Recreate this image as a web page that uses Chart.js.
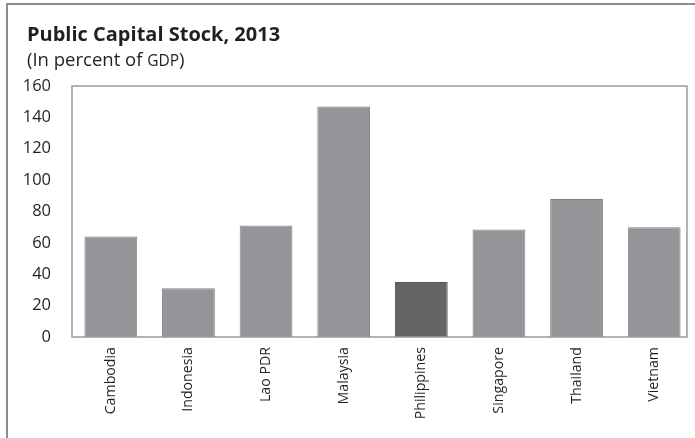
<!DOCTYPE html>
<html>
<head>
<meta charset="utf-8">
<script src="https://cdn.jsdelivr.net/npm/chart.js@4"></script>
<style>
  html, body { margin: 0; padding: 0; background: #fff; }
  #wrap { width: 695px; height: 438px; }
</style>
</head>
<body>
<div id="wrap"><canvas id="myChart" width="695" height="438"></canvas></div>
<script>
'use strict';

const countries = ['Cambodia', 'Indonesia', 'Lao PDR', 'Malaysia', 'Philippines', 'Singapore', 'Thailand', 'Vietnam'];
const capitalStock = [64, 31, 71, 147, 35, 68.5, 88, 70];
const barColors = ['#939598', '#939598', '#939598', '#939598', '#636466', '#939598', '#939598', '#939598'];
const borderColors = ['#808285', '#808285', '#808285', '#808285', '#555658', '#808285', '#808285', '#808285'];
const yTicks = [0, 20, 40, 60, 80, 100, 120, 140, 160];

const FONT = '"Open Sans", "Noto Sans", sans-serif';

// outer frame, titles and the box round the plot
const decor = {
    id: 'decor',
    beforeDraw(chart) {
        const ctx = chart.ctx;
        ctx.save();
        ctx.strokeStyle = '#8c8c8c';
        ctx.lineWidth = 2;
        ctx.beginPath();
        ctx.moveTo(7, 438);
        ctx.lineTo(7, 4);
        ctx.lineTo(695, 4);
        ctx.stroke();

        ctx.fillStyle = '#231f20';
        ctx.textBaseline = 'alphabetic';
        ctx.font = 'bold 20px ' + FONT;
        ctx.fillText('Public Capital Stock, 2013', 27, 41);
        ctx.font = '18.5px ' + FONT;
        const part = '(In percent of ';
        ctx.fillText(part, 27, 66);
        let x = 27 + ctx.measureText(part).width;
        ctx.font = '15.5px ' + FONT;
        ctx.fillText('GDP', x, 66);
        x += ctx.measureText('GDP').width;
        ctx.font = '18.5px ' + FONT;
        ctx.fillText(')', x, 66);
        ctx.restore();
    },
    afterDatasetsDraw(chart) {
        const a = chart.chartArea;
        const ctx = chart.ctx;
        ctx.save();
        ctx.strokeStyle = '#9a9a9a';
        ctx.lineWidth = 1.5;
        // the box stops a little short of the last category slot
        ctx.strokeRect(a.left, a.top, a.right - 6 - a.left, a.bottom - a.top);
        ctx.restore();
    }
};

const config = {
    type: 'bar',
    data: {
        labels: countries,
        datasets: [{
            data: capitalStock,
            backgroundColor: barColors,
            borderColor: borderColors,
            borderWidth: 1,
            barPercentage: 0.68,
            categoryPercentage: 1
        }]
    },
    options: {
        responsive: false,
        animation: false,
        layout: {
            padding: { left: 0, right: 2, top: 86, bottom: 0 }
        },
        plugins: {
            legend: { display: false },
            tooltip: { enabled: false }
        },
        scales: {
            x: {
                grid: { display: false, drawTicks: false },
                border: { display: false },
                ticks: {
                    color: '#231f20',
                    minRotation: 90,
                    maxRotation: 90,
                    padding: 10,
                    font: { family: FONT, size: 14.2 }
                },
                afterFit(scale) { scale.height = 101; }
            },
            y: {
                min: 0,
                max: 160,
                grid: { display: false, drawTicks: false },
                border: { display: false },
                afterBuildTicks(scale) {
                    scale.ticks = yTicks.map(v => ({ value: v }));
                },
                ticks: {
                    color: '#231f20',
                    padding: 21,
                    font: { family: FONT, size: 16.5 }
                },
                afterFit(scale) { scale.width = 72; }
            }
        }
    },
    plugins: [decor]
};

let myChart = new Chart(document.getElementById('myChart'), config);
</script>
</body>
</html>
